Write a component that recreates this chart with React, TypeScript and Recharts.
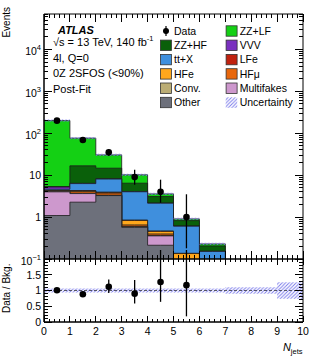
import React from 'react';
import { ComposedChart, Area, Line, XAxis, YAxis, ErrorBar, ReferenceLine, Legend } from 'recharts';

const FONT = '"Liberation Sans", Arial, Helvetica, sans-serif';

// ---------- DATA ----------
// N_jets bins [0,1), [1,2), ... [6,7)
const BIN_LOW = [0, 1, 2, 3, 4, 5, 6];

// Background components, events per bin (stack order bottom -> top)
const OTHER = [1.09, 2.27, 3.26, 0.57, 0.213, 0.04, 0.01];
const MULTIFAKES = [2.91, 1.37, 0.02, 0.01, 0.143, 0.02, 0.002];
const CONV = [0.05, 0.05, 0.05, 0.02, 0.01, 0.005, 0.001];
const HFMU = [0.1, 0.35, 0.4, 0.05, 0.03, 0.025, 0.001];
const HFE = [0.1, 0.15, 0.15, 0.18, 0.06, 0.045, 0.002];
const LFE = [0.05, 0.1, 0.05, 0.02, 0.01, 0.002, 0.001];
const TTX = [0.3, 2.0, 4.15, 3.17, 1.68, 0.47, 0.135];
const VVV = [0.6, 0.1, 0.1, 0.05, 0.02, 0.01, 0.002];
const ZZHF = [0.14, 10.3, 6.5, 2.37, 0.92, 0.208, 0.051];
const ZZLF = [195.7, 59.7, 15.8, 3.76, 0.49, 0.081, 0.024];

// Observed data
const DATA = [200, 69, 35, 9, 4, 1];
const DATA_LO = [186, 61, 29, 5.9, 2.2, 0.18];
const DATA_HI = [214, 78, 41.5, 13.4, 7.8, 3.5];

// Ratio panel
const RATIO_BIN_LOW = [0, 1, 2, 3, 4, 5, 6, 7, 8, 9];
const UNC = [0.06, 0.06, 0.06, 0.06, 0.06, 0.06, 0.06, 0.1, 0.1, 0.26];
const RATIO = [1.01, 0.88, 1.12, 0.9, 1.27, 1.17];
const RATIO_LO = [0.94, 0.79, 0.92, 0.59, 0.64, 0.18];
const RATIO_HI = [1.08, 0.97, 1.35, 1.33, 2.4, 4.0];

// Tick labels
const X_LABELS = ['0', '1', '2', '3', '4', '5', '6', '7', '8', '9', '10'];
const RATIO_LABELS = ['0', '0.5', '1', '1.5'];

const COMPONENTS = [
  { name: 'Other', color: '#6d707b', values: OTHER },
  { name: 'Multifakes', color: '#cd98cd', values: MULTIFAKES },
  { name: 'Conv.', color: '#bbad75', values: CONV },
  { name: 'HFμ', color: '#e8670c', values: HFMU },
  { name: 'HFe', color: '#ffa71c', values: HFE },
  { name: 'LFe', color: '#c0220f', values: LFE },
  { name: 'tt+X', color: '#3f8fdd', values: TTX },
  { name: 'VVV', color: '#7a30bf', values: VVV },
  { name: 'ZZ+HF', color: '#0a600a', values: ZZHF },
  { name: 'ZZ+LF', color: '#14d014', values: ZZLF },
];

const colorOf = (n: string) => COMPONENTS.find((c) => c.name === n)!.color;

const LEGEND_ITEMS = [
  { name: 'Data', kind: 'data' },
  { name: 'ZZ+LF', kind: 'box' },
  { name: 'ZZ+HF', kind: 'box' },
  { name: 'VVV', kind: 'box' },
  { name: 'tt+X', kind: 'box' },
  { name: 'LFe', kind: 'box' },
  { name: 'HFe', kind: 'box' },
  { name: 'HFμ', kind: 'box' },
  { name: 'Conv.', kind: 'box' },
  { name: 'Multifakes', kind: 'box' },
  { name: 'Other', kind: 'box' },
  { name: 'Uncertainty', kind: 'hatch' },
];

// ---------- TABLES ----------
const Y_MIN = 0.1;
const Y_MAX = 70000;
const FLOOR = 0.01;

const upperRows: any[] = [];
BIN_LOW.forEach((b, i) => {
  [0, 0.5].forEach((h) => {
    const row: any = { x: b + h };
    let cum = 0;
    COMPONENTS.forEach((c, k) => {
      cum += c.values[i];
      row['c' + k] = cum;
    });
    row.band = [cum * (1 - UNC[i]), cum * (1 + UNC[i])];
    if (h === 0.5 && i < DATA.length) {
      row.obs = DATA[i];
      row.obsErr = [DATA[i] - DATA_LO[i], DATA_HI[i] - DATA[i]];
    }
    upperRows.push(row);
  });
});
{
  const last = upperRows[upperRows.length - 1];
  const close: any = { x: BIN_LOW[BIN_LOW.length - 1] + 1, band: last.band };
  COMPONENTS.forEach((_, k) => (close['c' + k] = FLOOR));
  upperRows.push(close);
}

const ratioRows: any[] = [];
RATIO_BIN_LOW.forEach((b, i) => {
  [0, 0.5].forEach((h) => {
    const row: any = { x: b + h, band: [1 - UNC[i], 1 + UNC[i]] };
    if (h === 0.5 && i < RATIO.length) {
      row.ratio = RATIO[i];
      row.ratioErr = [RATIO[i] - RATIO_LO[i], RATIO_HI[i] - RATIO[i]];
    }
    ratioRows.push(row);
  });
});
ratioRows.push({ x: 10, band: [1 - UNC[9], 1 + UNC[9]] });

// tick positions
const X_TICKS: number[] = [];
for (let i = 0; i <= 50; i++) X_TICKS.push(Math.round(i * 2) / 10);
const X_MAJOR: number[] = X_LABELS.map((_, i) => i);
const LOG_TICKS: number[] = [];
for (let e = -1; e <= 4; e++) {
  for (let m = 1; m <= 9; m++) {
    const v = Number((m * Math.pow(10, e)).toPrecision(6));
    if (v <= Y_MAX) LOG_TICKS.push(v);
  }
}
const LOG_MAJOR = [0.1, 1, 10, 100, 1000, 10000];
const R_TICKS: number[] = [];
for (let i = 0; i <= 20; i++) R_TICKS.push(i / 10);
const R_MAJOR = [0, 0.5, 1, 1.5, 2];

const isInt = (v: number) => Math.abs(v - Math.round(v)) < 1e-6;

const TickMark = ({ d }: { d: string }) => (
  <path d={d} stroke="#000" strokeWidth={1} fill="none" shapeRendering="crispEdges" />
);

// ---------- TICK RENDERERS ----------
// tick marks (drawn by mirrored axes, pointing into the frame)
const markUp = (len: [number, number]) => (p: any) => {
  const { x, y, payload } = p;
  const l = isInt(payload.value) ? len[0] : len[1];
  return <g><TickMark d={`M${x},${y}V${y - l}`} /></g>;
};
const markDown = (len: [number, number]) => (p: any) => {
  const { x, y, payload } = p;
  const l = isInt(payload.value) ? len[0] : len[1];
  return <g><TickMark d={`M${x},${y}V${y + l}`} /></g>;
};
const markRight = (isMajor: (v: number) => boolean) => (p: any) => {
  const { x, y, payload } = p;
  const l = isMajor(payload.value) ? 8 : 4;
  return <g><TickMark d={`M${x},${y}H${x + l}`} /></g>;
};
const markLeft = (isMajor: (v: number) => boolean) => (p: any) => {
  const { x, y, payload } = p;
  const l = isMajor(payload.value) ? 8 : 4;
  return <g><TickMark d={`M${x},${y}H${x - l}`} /></g>;
};
const logMajor = (v: number) => isInt(Math.log10(v));
const halfMajor = (v: number) => isInt(v * 2);

// labels
const logLabel = (e: number) => {
  if (e === 0) return '1';
  if (e === 1) return '10';
  return (
    <>
      10
      <tspan dy={-4.5} fontSize={7.5}>
        {e < 0 ? '−1' : String(e)}
      </tspan>
    </>
  );
};
const LogLabel = (p: any) => {
  const { x, y, payload } = p;
  const e = Math.round(Math.log10(payload.value));
  return (
    <text x={x - 3} y={y + (e >= 2 || e < 0 ? 5.5 : 3.8)} textAnchor="end" fontSize={10.5} fontFamily={FONT} fill="#000">
      {logLabel(e)}
    </text>
  );
};
const RatioLabel = (p: any) => {
  const { x, y, payload } = p;
  const idx = Math.round(payload.value * 2);
  if (idx >= RATIO_LABELS.length) return <g />;
  return (
    <text x={x - 3} y={y + 3.8} textAnchor="end" fontSize={10.5} fontFamily={FONT} fill="#000">
      {RATIO_LABELS[idx]}
    </text>
  );
};
const XLabel = (p: any) => {
  const { x, y, payload } = p;
  return (
    <text x={x} y={y + 13} textAnchor="middle" fontSize={10.5} fontFamily={FONT} fill="#000">
      {X_LABELS[Math.round(payload.value)]}
    </text>
  );
};

// ---------- LEGEND ----------
const renderLegend = () => {
  const col = [160, 225.7];
  const rowY = (r: number) => 31 + r * 14.3;
  return (
    <svg width={319} height={120} style={{ position: 'absolute', left: 0, top: 0, overflow: 'visible' }}>
      {LEGEND_ITEMS.map((it, i) => {
        const c = i % 2;
        const r = Math.floor(i / 2);
        const x = col[c];
        const y = rowY(r);
        let icon: any = null;
        if (it.kind === 'data') {
          icon = (
            <g>
              <line x1={x + 6} y1={y - 5} x2={x + 6} y2={y + 5} stroke="#000" strokeWidth={1.2} />
              <circle cx={x + 6} cy={y} r={3} fill="#000" />
            </g>
          );
        } else if (it.kind === 'hatch') {
          icon = <rect x={x} y={y - 5.2} width={11.5} height={10.5} fill="url(#hatchPat)" />;
        } else {
          icon = (
            <rect x={x + 0.4} y={y - 5.2} width={11} height={10.4} fill={colorOf(it.name)} stroke="#333" strokeWidth={0.8} />
          );
        }
        return (
          <g key={it.name}>
            {icon}
            <text x={x + 14} y={y + 3.8} fontSize={10.5} fontFamily={FONT} fill="#000">
              {it.name}
            </text>
          </g>
        );
      })}
    </svg>
  );
};

const axisCommon = {
  interval: 0 as const,
  tickSize: 0,
  tickMargin: 0,
  tickLine: false,
  allowDataOverflow: true,
  axisLine: { stroke: '#000', strokeWidth: 1 },
};

// ---------- APP ----------
export default function App() {
  const areas = COMPONENTS.map((c, k) => ({ ...c, k })).reverse();
  return (
    <div style={{ position: 'absolute', left: 0, top: 0, width: 319, height: 360, background: '#fff', overflow: 'hidden' }}>
      <svg width={0} height={0} style={{ position: 'absolute' }}>
        <defs>
          <pattern id="hatchPat" width={3.5} height={3.5} patternUnits="userSpaceOnUse">
            <path d="M-1,1 L1,-1 M0,3.5 L3.5,0 M2.5,4.5 L4.5,2.5" stroke="#7676ea" strokeWidth={0.9} />
          </pattern>
        </defs>
      </svg>

      {/* Upper panel */}
      <div style={{ position: 'absolute', left: 0, top: 0 }}>
        <ComposedChart width={319} height={275} data={upperRows} margin={{ top: 14, right: 16, bottom: 16, left: 14 }}>
          <XAxis xAxisId="b" dataKey="x" type="number" domain={[0, 10]} ticks={X_TICKS} height={10} mirror tick={markUp([8, 4])} {...axisCommon} />
          <XAxis xAxisId="t" orientation="top" dataKey="x" type="number" domain={[0, 10]} ticks={X_TICKS} height={10} mirror tick={markDown([8, 4])} {...axisCommon} />
          <YAxis yAxisId="l" type="number" scale="log" domain={[Y_MIN, Y_MAX]} ticks={LOG_MAJOR} width={30} tick={LogLabel} {...axisCommon} />
          <YAxis yAxisId="lt" type="number" scale="log" domain={[Y_MIN, Y_MAX]} ticks={LOG_TICKS} width={10} mirror tick={markRight(logMajor)} {...axisCommon} />
          <YAxis yAxisId="r" orientation="right" type="number" scale="log" domain={[Y_MIN, Y_MAX]} ticks={LOG_TICKS} width={10} mirror tick={markLeft(logMajor)} {...axisCommon} />
          {areas.map((c) => (
            <Area
              key={c.name}
              xAxisId="b"
              yAxisId="l"
              type="stepAfter"
              dataKey={'c' + c.k}
              name={c.name}
              baseValue={Y_MIN}
              fill={c.color}
              fillOpacity={1}
              stroke="#1c1c1c"
              strokeWidth={0.8}
              isAnimationActive={false}
              activeDot={false}
              dot={false}
            />
          ))}
          <Area
            xAxisId="b"
            yAxisId="l"
            type="stepAfter"
            dataKey="band"
            name="Uncertainty"
            fill="url(#hatchPat)"
            fillOpacity={1}
            stroke="none"
            isAnimationActive={false}
            activeDot={false}
            dot={false}
          />
          <Line
            xAxisId="b"
            yAxisId="l"
            dataKey="obs"
            name="Data"
            stroke="none"
            connectNulls={false}
            dot={{ r: 3.3, fill: '#000', stroke: '#000', strokeWidth: 0 }}
            activeDot={false}
            isAnimationActive={false}
          >
            <ErrorBar dataKey="obsErr" direction="y" width={0} stroke="#000" strokeWidth={1.3} />
          </Line>
          <Legend
            layout="horizontal"
            verticalAlign="middle"
            align="center"
            content={renderLegend}
            wrapperStyle={{ position: 'absolute', left: 0, top: 0, width: 319, height: 120 }}
          />
        </ComposedChart>
      </div>

      {/* Ratio panel */}
      <div style={{ position: 'absolute', left: 0, top: 250 }}>
        <ComposedChart width={319} height={110} data={ratioRows} margin={{ top: 9, right: 16, bottom: 0, left: 14 }}>
          <XAxis xAxisId="b" dataKey="x" type="number" domain={[0, 10]} ticks={X_MAJOR} height={38} tick={XLabel} {...axisCommon} />
          <XAxis xAxisId="bt" dataKey="x" type="number" domain={[0, 10]} ticks={X_TICKS} height={8} mirror tick={markUp([6, 3])} {...axisCommon} />
          <XAxis xAxisId="t" orientation="top" dataKey="x" type="number" domain={[0, 10]} ticks={X_TICKS} height={8} mirror tick={markDown([6, 3])} {...axisCommon} />
          <YAxis yAxisId="l" type="number" domain={[0, 2]} ticks={R_MAJOR} width={30} tick={RatioLabel} {...axisCommon} />
          <YAxis yAxisId="lt" type="number" domain={[0, 2]} ticks={R_TICKS} width={10} mirror tick={markRight(halfMajor)} {...axisCommon} />
          <YAxis yAxisId="r" orientation="right" type="number" domain={[0, 2]} ticks={R_TICKS} width={10} mirror tick={markLeft(halfMajor)} {...axisCommon} />
          <Area
            xAxisId="b"
            yAxisId="l"
            type="stepAfter"
            dataKey="band"
            fill="url(#hatchPat)"
            fillOpacity={1}
            stroke="none"
            isAnimationActive={false}
            activeDot={false}
            dot={false}
          />
          <ReferenceLine xAxisId="b" yAxisId="l" y={1} stroke="#555566" strokeWidth={1} strokeDasharray="3 2" />
          <Line
            xAxisId="b"
            yAxisId="l"
            dataKey="ratio"
            stroke="none"
            connectNulls={false}
            dot={{ r: 3.3, fill: '#000', stroke: '#000', strokeWidth: 0 }}
            activeDot={false}
            isAnimationActive={false}
          >
            <ErrorBar dataKey="ratioErr" direction="y" width={0} stroke="#000" strokeWidth={1.3} />
          </Line>
        </ComposedChart>
      </div>

      {/* Annotations and axis titles */}
      <svg width={319} height={360} style={{ position: 'absolute', left: 0, top: 0, pointerEvents: 'none' }}>
        <g fontFamily={FONT} fill="#000">
          <text x={58} y={34.3} fontSize={11} fontWeight="bold" fontStyle="italic">ATLAS</text>
          <text x={53} y={45.7} fontSize={11}>
            √s = 13 TeV, 140 fb<tspan dy={-4.5} fontSize={7.5}>-1</tspan>
          </text>
          <text x={53} y={61.5} fontSize={11}>4l, Q=0</text>
          <text x={53} y={77.2} fontSize={11}>0Z 2SFOS (&lt;90%)</text>
          <text x={53} y={92.8} fontSize={11}>Post-Fit</text>
          <text x={10} y={7} fontSize={10} textAnchor="end" transform="rotate(-90, 10, 7)">Events</text>
          <text x={10} y={288.3} fontSize={10} textAnchor="middle" transform="rotate(-90, 10, 288.3)">Data / Bkg.</text>
          <text x={302.5} y={351} fontSize={11} textAnchor="end">
            <tspan fontStyle="italic">N</tspan>
            <tspan fontSize={7.5} dy={2.5}>jets</tspan>
          </text>
        </g>
      </svg>
    </div>
  );
}
